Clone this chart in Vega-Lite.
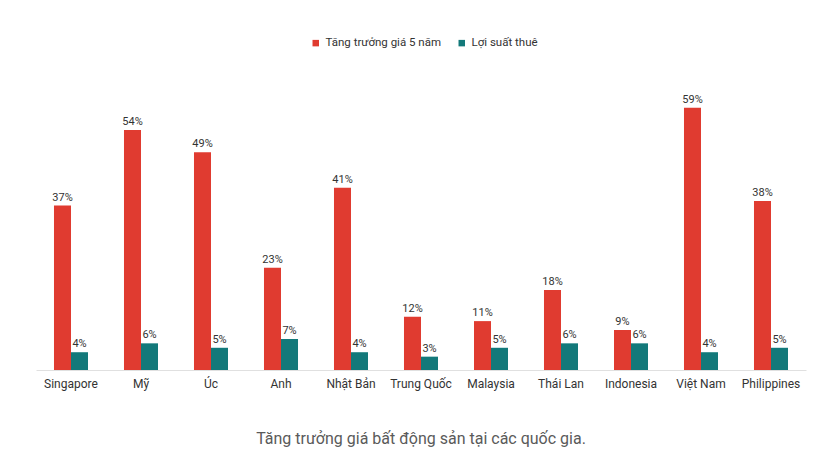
{
  "$schema": "https://vega.github.io/schema/vega-lite/v6.json",
  "width": 770,
  "height": 300,
  "autosize": "none",
  "padding": {"left": 36, "top": 70, "right": 19, "bottom": 94},
  "background": "white",
  "config": {
    "font": "Roboto",
    "view": {"stroke": null}
  },
  "title": {
    "text": "Tăng trưởng giá bất động sản tại các quốc gia.",
    "orient": "bottom",
    "anchor": "middle",
    "fontSize": 16,
    "fontWeight": "normal",
    "color": "#5a5a5a",
    "offset": 42
  },
  "data": {
    "values": [
      {"country": "Singapore", "series": "Tăng trưởng giá 5 năm", "value": 0.37},
      {"country": "Singapore", "series": "Lợi suất thuê", "value": 0.04},
      {"country": "Mỹ", "series": "Tăng trưởng giá 5 năm", "value": 0.54},
      {"country": "Mỹ", "series": "Lợi suất thuê", "value": 0.06},
      {"country": "Úc", "series": "Tăng trưởng giá 5 năm", "value": 0.49},
      {"country": "Úc", "series": "Lợi suất thuê", "value": 0.05},
      {"country": "Anh", "series": "Tăng trưởng giá 5 năm", "value": 0.23},
      {"country": "Anh", "series": "Lợi suất thuê", "value": 0.07},
      {"country": "Nhật Bản", "series": "Tăng trưởng giá 5 năm", "value": 0.41},
      {"country": "Nhật Bản", "series": "Lợi suất thuê", "value": 0.04},
      {"country": "Trung Quốc", "series": "Tăng trưởng giá 5 năm", "value": 0.12},
      {"country": "Trung Quốc", "series": "Lợi suất thuê", "value": 0.03},
      {"country": "Malaysia", "series": "Tăng trưởng giá 5 năm", "value": 0.11},
      {"country": "Malaysia", "series": "Lợi suất thuê", "value": 0.05},
      {"country": "Thái Lan", "series": "Tăng trưởng giá 5 năm", "value": 0.18},
      {"country": "Thái Lan", "series": "Lợi suất thuê", "value": 0.06},
      {"country": "Indonesia", "series": "Tăng trưởng giá 5 năm", "value": 0.09},
      {"country": "Indonesia", "series": "Lợi suất thuê", "value": 0.06},
      {"country": "Việt Nam", "series": "Tăng trưởng giá 5 năm", "value": 0.59},
      {"country": "Việt Nam", "series": "Lợi suất thuê", "value": 0.04},
      {"country": "Philippines", "series": "Tăng trưởng giá 5 năm", "value": 0.38},
      {"country": "Philippines", "series": "Lợi suất thuê", "value": 0.05}
    ]
  },
  "encoding": {
    "x": {
      "field": "country",
      "type": "nominal",
      "sort": null,
      "scale": {"paddingInner": 0.514, "paddingOuter": 0.257},
      "axis": {
        "title": null,
        "labelAngle": 0,
        "ticks": false,
        "domainColor": "#e0e0e0",
        "labelColor": "#333333",
        "labelFontSize": 12,
        "labelPadding": 8
      }
    },
    "xOffset": {
      "field": "series",
      "type": "nominal",
      "sort": ["Tăng trưởng giá 5 năm", "Lợi suất thuê"],
      "scale": {"paddingInner": 0, "paddingOuter": 0}
    },
    "y": {
      "field": "value",
      "type": "quantitative",
      "scale": {"domain": [0, 0.675], "nice": false},
      "axis": null
    }
  },
  "layer": [
    {
      "mark": {"type": "bar"},
      "encoding": {
        "color": {
          "field": "series",
          "type": "nominal",
          "scale": {
            "domain": ["Tăng trưởng giá 5 năm", "Lợi suất thuê"],
            "range": ["#e03b30", "#13797a"]
          },
          "legend": {
            "title": null,
            "orient": "none",
            "legendX": 274,
            "legendY": -33,
            "direction": "horizontal",
            "symbolType": "square",
            "symbolSize": 42,
            "symbolOffset": 0,
            "labelOffset": 4,
            "labelFontSize": 11.5,
            "labelColor": "#333333",
            "columnPadding": 14
          }
        }
      }
    },
    {
      "mark": {"type": "text", "baseline": "bottom", "dy": -3, "fontSize": 11, "color": "#333333"},
      "encoding": {
        "text": {"field": "value", "type": "quantitative", "format": ".0%"}
      }
    }
  ]
}
